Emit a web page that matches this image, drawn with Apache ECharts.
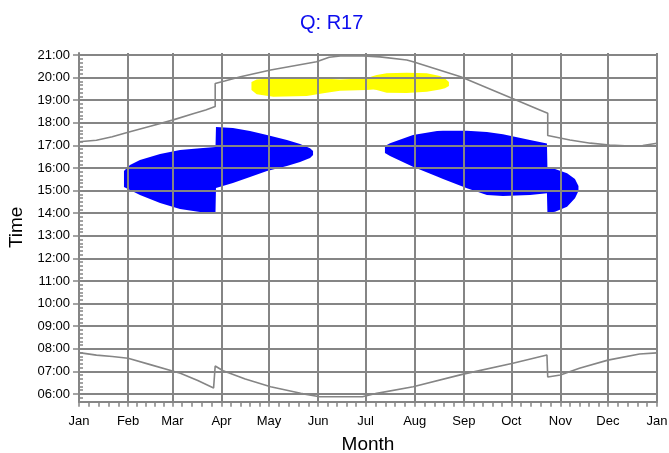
<!DOCTYPE html>
<html><head><meta charset="utf-8">
<script src="https://cdn.jsdelivr.net/npm/echarts@6/dist/echarts.min.js"></script>
<style>html,body{margin:0;padding:0;background:#fff}#c{width:669px;height:453px}</style>
</head><body><div id="c"></div>
<script>
// ---- data ----
const monthLabels = ['Jan','Feb','Mar','Apr','May','Jun','Jul','Aug','Sep','Oct','Nov','Dec','Jan'];
const monthStartDays = [0,31,59,90,120,151,181,212,243,273,304,334,365];
const hourTicks = [6,7,8,9,10,11,12,13,14,15,16,17,18,19,20,21];
// [dayOfYear, hour]
const sunrise = [[0,7.83],[11,7.72],[21,7.66],[31,7.58],[45,7.3],[59,7.02],[64,6.92],[75,6.6],[85,6.27],[86,6.24],[86,7.24],[91,7.03],[105,6.66],[121,6.32],[140,6.03],[152,5.88],[179,5.88],[188,6.03],[211,6.32],[242,6.87],[274,7.36],[295.5,7.73],[296,7.75],[296,6.75],[304,6.84],[316,7.14],[334,7.5],[354,7.77],[365,7.82]];
const sunset = [[0,17.16],[11,17.23],[21,17.38],[31,17.58],[45,17.85],[59,18.12],[72,18.4],[80,18.57],[86,18.72],[86,19.74],[92,19.85],[102,20.04],[121,20.34],[150,20.7],[158,20.9],[165,20.96],[177,20.97],[190,20.92],[207,20.78],[211,20.7],[241,20.04],[273,19.1],[291,18.57],[296,18.42],[296,17.44],[297,17.46],[310,17.24],[323,17.1],[335,17.02],[348,16.97],[356,17.0],[365,17.1]];
// [dayOfYear, fromHour, toHour]
const blueEarly = [[28.4,15.16,15.87],[32.2,15.03,16.13],[38.5,14.81,16.35],[51.2,14.45,16.62],[63.8,14.19,16.8],[76.4,14.05,16.88],[86.2,14.05,16.93],[86.5,15.12,17.81],[97.2,15.34,17.77],[108,15.6,17.64],[118.7,15.87,17.46],[131.3,16.09,17.24],[139.6,16.27,17.06],[145.9,16.44,16.88],[147.8,16.58,16.75]];
const blueLate = [[193.2,16.66,16.97],[196.4,16.53,17.1],[210.9,16.06,17.46],[226.1,15.62,17.64],[229.9,15.51,17.65],[245,15.1,17.65],[257.6,14.81,17.59],[267.7,14.76,17.5],[284.8,14.81,17.24],[295.5,14.88,17.09],[295.8,14.02,16.03],[300.6,14.07,15.96],[308.2,14.29,15.77],[313.2,14.66,15.51],[315.4,14.98,15.2]];
const yellowBand = [[108.9,19.45,19.81],[112.2,19.27,19.92],[122.7,19.15,19.97],[143.8,19.19,19.97],[154.3,19.31,19.96],[164.8,19.42,19.92],[181.7,19.45,19.97],[185.8,19.48,20.07],[188,19.45,20.12],[194.3,19.33,20.19],[206.9,19.32,20.22],[219.6,19.38,20.19],[228,19.48,20.07],[231.1,19.53,19.96],[233.6,19.63,19.81]];

// ---- derived ticks ----
const minorDays = [];
for (let i = 0; i < monthStartDays.length - 1; i++) {
  const a = monthStartDays[i], b = monthStartDays[i+1];
  for (let k = 1; k < 5; k++) minorDays.push(a + (b - a) * k / 5);
}
const yMin = 5.66, yMax = 21.09;
const minorHours = [];
for (let m = 340; m <= 21*60; m += 10) { const h = m/60; if (h >= yMin && h <= yMax && m % 60 !== 0) minorHours.push(h); }

const gray = '#858585';
const font = 'Liberation Sans, Arial, sans-serif';

function band(rows) {
  return function (params, api) {
    if (params.dataIndex !== 0) return null;
    const pts = [];
    rows.forEach(r => pts.push(api.coord([r[0], r[2]])));
    for (let i = rows.length - 1; i >= 0; i--) pts.push(api.coord([rows[i][0], rows[i][1]]));
    return { type: 'polygon', shape: { points: pts }, style: { fill: api.visual('color') } };
  };
}
function pad(n){ return (n < 10 ? '0' : '') + n; }

const chart = echarts.init(document.getElementById('c'));
chart.setOption({
  animation: false,
  backgroundColor: '#fff',
  textStyle: { fontFamily: font },
  title: { text: 'Q: R17', left: 295, top: 8, textStyle: { color: '#0c0cee', fontSize: 20, fontWeight: 'normal', fontFamily: font } },
  grid: { left: 79, right: 12, top: 53, bottom: 51.3, containLabel: false, outerBoundsMode: 'none' },
  xAxis: [{
    type: 'value', min: 0, max: 365, position: 'bottom', zlevel: 1, z: 5,
    name: 'Month', nameLocation: 'middle', nameGap: 34,
    nameTextStyle: { fontSize: 19, color: '#000', fontFamily: font },
    axisLine: { show: true, onZero: false, lineStyle: { color: gray, width: 2 } },
    axisTick: { show: true, customValues: monthStartDays, length: 5, lineStyle: { color: gray, width: 1.5 } },
    axisLabel: { customValues: monthStartDays, margin: 13, fontSize: 13, color: '#000', fontFamily: font,
      formatter: function (v) { let best = 0; monthStartDays.forEach((d, i) => { if (Math.abs(d - v) < Math.abs(monthStartDays[best] - v)) best = i; }); return monthLabels[best]; } },
    splitLine: { show: true, lineStyle: { color: gray, width: 2 } }
  }, {
    type: 'value', min: 0, max: 365, position: 'bottom', zlevel: 1, z: 5,
    axisLine: { show: false }, axisLabel: { show: false }, splitLine: { show: false },
    axisTick: { show: true, customValues: minorDays, length: 5, lineStyle: { color: gray, width: 1.5 } }
  }],
  yAxis: [{
    type: 'value', min: yMin, max: yMax, zlevel: 1, z: 5,
    name: 'Time', nameLocation: 'middle', nameGap: 52, nameRotate: 90,
    nameTextStyle: { fontSize: 19, color: '#000', fontFamily: font },
    axisLine: { show: true, onZero: false, lineStyle: { color: gray, width: 2 } },
    axisTick: { show: true, customValues: hourTicks, length: 6, lineStyle: { color: gray, width: 1.5 } },
    axisLabel: { customValues: hourTicks, margin: 9, fontSize: 13, color: '#000', fontFamily: font,
      formatter: function (v) { return pad(Math.round(v)) + ':00'; } },
    splitLine: { show: true, lineStyle: { color: gray, width: 2 } }
  }, {
    type: 'value', min: yMin, max: yMax, position: 'left', zlevel: 1, z: 5,
    axisLine: { show: false }, axisLabel: { show: false }, splitLine: { show: false },
    axisTick: { show: true, inside: true, customValues: minorHours, length: 4, lineStyle: { color: gray, width: 1.5 } }
  }],
  series: [
    { type: 'custom', name: 'early', renderItem: band(blueEarly), data: blueEarly, encode: { x: 0, y: [1, 2] }, itemStyle: { color: '#0000ff' }, z: 2, silent: true },
    { type: 'custom', name: 'late', renderItem: band(blueLate), data: blueLate, encode: { x: 0, y: [1, 2] }, itemStyle: { color: '#0000ff' }, z: 2, silent: true },
    { type: 'custom', name: 'yellow', renderItem: band(yellowBand), data: yellowBand, encode: { x: 0, y: [1, 2] }, itemStyle: { color: '#ffff00' }, z: 2, silent: true },
    { type: 'line', name: 'sunrise', data: sunrise, showSymbol: false, lineStyle: { color: gray, width: 1.6 }, z: 3, silent: true },
    { type: 'line', name: 'sunset', data: sunset, showSymbol: false, lineStyle: { color: gray, width: 1.6 }, z: 3, silent: true }
  ]
});
</script></body></html>
